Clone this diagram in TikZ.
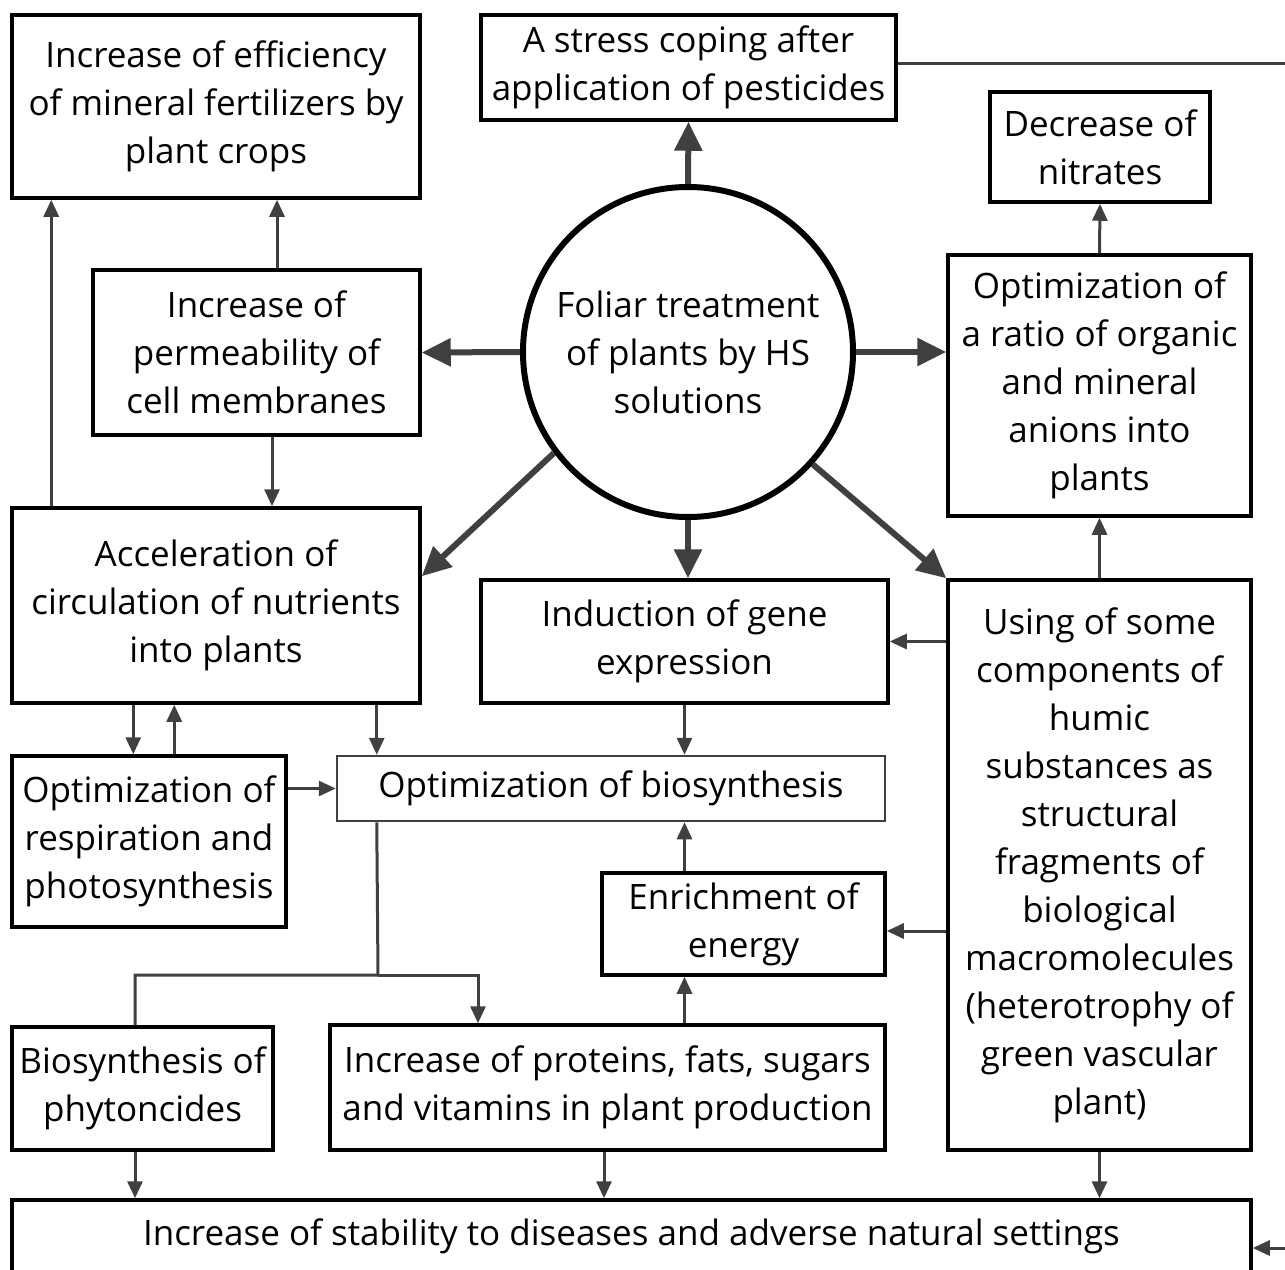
\documentclass[tikz,border=0pt]{standalone}
\usepackage{fontspec}
\setmainfont{Open Sans}
\usetikzlibrary{arrows.meta,calc}
\definecolor{arrowgray}{HTML}{404040}

\begin{document}
\begin{tikzpicture}[x=1pt,y=-1pt,>={Triangle[length=17pt,width=15pt]},
  box/.style={draw=black,line width=3.5pt,align=center,inner sep=2pt,font=\fontsize{35}{48}\selectfont},
  link/.style={->,draw=arrowgray,line width=3pt},
  biglink/.style={-{Triangle[length=29pt,width=27pt]},draw=arrowgray,line width=6pt}]
\useasboundingbox[fill=white](0,0)rectangle(1285,1269);
% boxes
\node[box,minimum width=408,minimum height=183](effic)at(216,106.5){Increase of efficiency\\of mineral fertilizers by\\plant crops};
\node[box,minimum width=415,minimum height=105](stress)at(688.5,67.5){A stress coping after\\application of pesticides};
\node[box,minimum width=220,minimum height=110](nitr)at(1100,147){Decrease of\\nitrates};
\node[box,circle,line width=6pt,minimum size=330,inner sep=0pt](hs)at(688,352){Foliar treatment\\of plants by HS\\solutions};
\node[box,minimum width=327,minimum height=165](perm)at(256.5,352.5){Increase of\\permeability of\\cell membranes};
\node[box,minimum width=303,minimum height=261](ratio)at(1099.5,385.5){Optimization of\\a ratio of organic\\and mineral\\anions into\\plants};
\node[box,minimum width=408,minimum height=195](accel)at(216,605.5){Acceleration of\\circulation of nutrients\\into plants};
\node[box,minimum width=407,minimum height=123](gene)at(684.5,641.5){Induction of gene\\expression};
\node[box,minimum width=303,minimum height=570](using)at(1099.5,865){Using of some\\components of\\humic\\substances as\\structural\\fragments of\\biological\\macromolecules\\(heterotrophy of\\green vascular\\plant)};
\node[box,minimum width=274,minimum height=171](resp)at(149,841.5){Optimization of\\respiration and\\photosynthesis};
\node[box,draw=arrowgray,line width=2.5pt,minimum width=548,minimum height=65](bios)at(611,788.5){Optimization of biosynthesis};
\node[box,minimum width=283,minimum height=102](energy)at(743.5,924){Enrichment of\\energy};
\node[box,minimum width=261,minimum height=123](phyto)at(142.5,1088.5){Biosynthesis of\\phytoncides};
\node[box,minimum width=555,minimum height=125](prot)at(607.5,1087.5){Increase of proteins, fats, sugars\\and vitamins in plant production};
\node[box,minimum width=1239,minimum height=72](stab)at(631.5,1236){Increase of stability to diseases and adverse natural settings};
\coordinate(split)at(378,975);
\coordinate(edgetop)at(1285,63);
\coordinate(edgebot)at(1285,1248);
% arrows from the circle
\draw[biglink](hs.north)--(stress.south);
\draw[biglink](hs.west)--(perm.east);
\draw[biglink](hs.east)--(hs.east-|ratio.west);
\draw[biglink](hs.south)--(hs.south|-gene.north);
\draw[biglink](hs.217)--([yshift=-70]accel.north east);
\draw[biglink](hs.318)--(using.north west);
% other arrows
\draw[link]([xshift=20.5]perm.north)--([xshift=20.5]perm.north|-effic.south);
\draw[link]([xshift=41]accel.north west)--([xshift=41]effic.south west);
\draw[link]([xshift=15.5]perm.south)--([xshift=15.5]perm.south|-accel.north);
\draw[link]([xshift=123]accel.south west)--([xshift=123]accel.south west|-resp.north);
\draw[link]([xshift=164]resp.north west)--([xshift=164]resp.north west|-accel.south);
\draw[link]([xshift=41]bios.north west|-accel.south)--([xshift=41]bios.north west);
\draw[link](gene.south)--(gene.south|-bios.north);
\draw[link](bios.west-|resp.east)--(bios.west);
\draw[link](gene.south|-energy.north)--(gene.south|-bios.south);
\draw[link](gene.south|-prot.north)--(gene.south|-energy.south);
\draw[link](using.west|-gene.east)--(gene.east);
\draw[link]([yshift=-7]using.west|-energy.east)--([yshift=-7]energy.east);
\draw[link](ratio.north)--(nitr.south);
\draw[link](using.north)--(ratio.south);
\draw[draw=arrowgray,line width=3pt]([xshift=41]bios.south west)--(split)-|([xshift=-7.5]phyto.north);
\draw[link](split)-|([xshift=-129.5]prot.north);
\draw[link]([xshift=-7.5]phyto.south)--([xshift=-7.5]phyto.south|-stab.north);
\draw[link]([xshift=-3.5]prot.south)--([xshift=-3.5]prot.south|-stab.north);
\draw[link](using.south)--(using.south|-stab.north);
\draw[draw=arrowgray,line width=3pt](stress.east|-edgetop)--(edgetop);
\draw[link](edgebot)--(edgebot-|stab.east);
\end{tikzpicture}
\end{document}
